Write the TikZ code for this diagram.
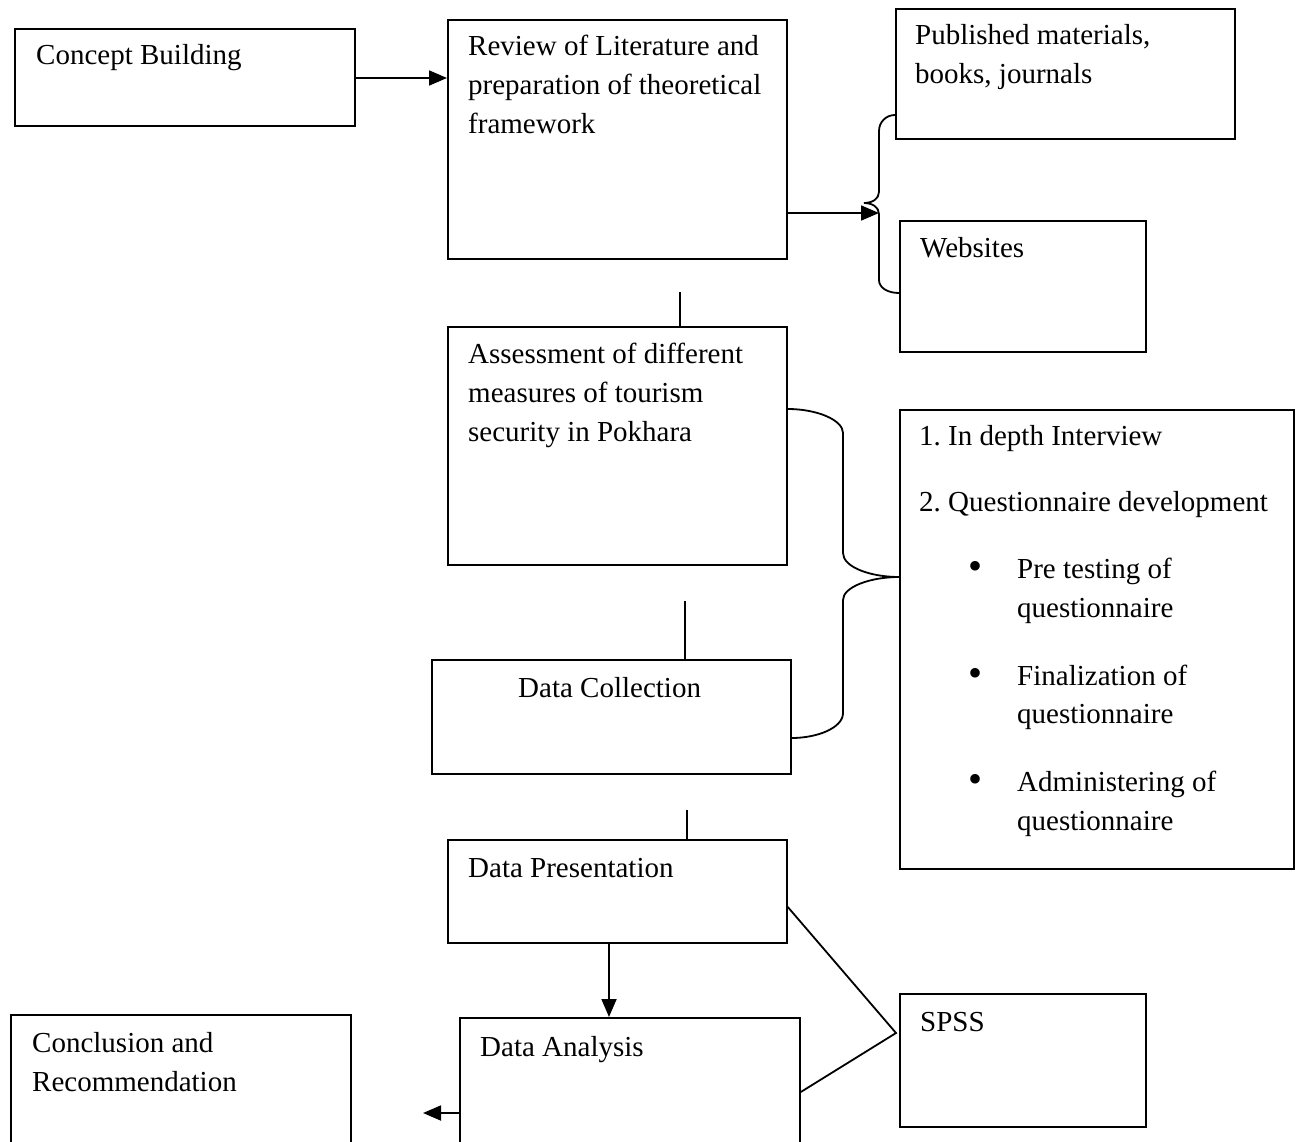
\documentclass[tikz,border=0pt]{standalone}
\usepackage{fontspec}
\setmainfont{Liberation Serif}
\usetikzlibrary{arrows.meta}
\frenchspacing
\begin{document}
\begin{tikzpicture}[x=1pt,y=-1pt,
  box/.style={draw,line width=1.8pt,rectangle,inner sep=0pt,anchor=north west},
  txt/.style={anchor=base west,inner sep=0pt,font=\fontsize{29}{39}\selectfont},
  bul/.style={anchor=base,inner sep=0pt,font=\fontsize{40}{39}\selectfont},
  ln/.style={line width=1.8pt},
  arr/.style={line width=1.8pt,-{Triangle[length=18pt,width=15pt]}}]
\clip (0,0) rectangle (1301,1142);
\fill[white] (0,0) rectangle (1301,1142);
% boxes
\node[box,minimum width=340pt,minimum height=97pt] (concept) at (14,28) {};
\node[box,minimum width=339pt,minimum height=239pt] (review) at (447,19) {};
\node[box,minimum width=339pt,minimum height=130pt] (published) at (895,8) {};
\node[box,minimum width=246pt,minimum height=131pt] (websites) at (899,220) {};
\node[box,minimum width=339pt,minimum height=238pt] (assess) at (447,326) {};
\node[box,minimum width=359pt,minimum height=114pt] (collect) at (431,659) {};
\node[box,minimum width=394pt,minimum height=459pt] (methods) at (899,409) {};
\node[box,minimum width=339pt,minimum height=103pt] (present) at (447,839) {};
\node[box,minimum width=340pt,minimum height=140pt] (analysis) at (459,1017) {};
\node[box,minimum width=246pt,minimum height=133pt] (spss) at (899,993) {};
\node[box,minimum width=340pt,minimum height=140pt] (conclusion) at (10,1014) {};
% texts
\node[txt] (t-concept) at (36,65) {Concept Building};
\node[txt] (t-rev1) at (468,56) {Review of Literature and};
\node[txt] (t-rev2) at (468,95) {preparation of theoretical};
\node[txt] (t-rev3) at (468,134) {framework};
\node[txt] (t-pub1) at (915,45) {Published materials,};
\node[txt] (t-pub2) at (915,84) {books, journals};
\node[txt] (t-web) at (920,258) {Websites};
\node[txt] (t-as1) at (468,363) {Assessment of different};
\node[txt] (t-as2) at (468,402) {measures of tourism};
\node[txt] (t-as3) at (468,441) {security in Pokhara};
\node[txt] (t-col) at (518,697) {Data Collection};
\node[txt] (t-m1) at (919,445) {1. In depth Interview};
\node[txt] (t-m2) at (919,511) {2. Questionnaire development};
\node[bul] (b1) at (975,579) {•};
\node[txt] (t-m3) at (1017,578) {Pre testing of};
\node[txt] (t-m4) at (1017,617) {questionnaire};
\node[bul] (b2) at (975,686) {•};
\node[txt] (t-m5) at (1017,685) {Finalization of};
\node[txt] (t-m6) at (1017,723) {questionnaire};
\node[bul] (b3) at (975,792) {•};
\node[txt] (t-m7) at (1017,791) {Administering of};
\node[txt] (t-m8) at (1017,830) {questionnaire};
\node[txt] (t-pre) at (468,877) {Data Presentation};
\node[txt] (t-ana) at (480,1056) {Data Analysis};
\node[txt] (t-spss) at (920,1031) {SPSS};
\node[txt] (t-con1) at (32,1052) {Conclusion and};
\node[txt] (t-con2) at (32,1091) {Recommendation};
% free-end coordinates
\coordinate (c1) at (680,292);
\coordinate (c2) at (685,601);
\coordinate (c3) at (687,810);
\coordinate (c4) at (423,1113);
\coordinate (btip) at (879,213);
\coordinate (spssv) at (896,1033);
% connectors
\draw[arr] (concept.east |- 0,78) -- (review.west |- 0,78);
\draw[arr] (review.east |- btip) -- (btip);
\draw[ln] (c1) -- (c1 |- assess.north);
\draw[ln] (c2) -- (c2 |- collect.north);
\draw[ln] (c3) -- (c3 |- present.north);
\draw[arr] (present.south -| 609,0) -- (analysis.north -| 609,0);
\draw[arr] (analysis.west |- c4) -- (c4);
\draw[ln] (present.east |- 0,907) -- (spssv) -- (analysis.east |- 0,1092);
% small brace
\draw[ln] (published.west |- 0,115) .. controls (886,115) and (879,122) .. (879,131)
  -- (879,192) .. controls (879,199) and (872,203) .. (864,203)
  .. controls (872,203) and (879,207) .. (879,214)
  -- (879,280) .. controls (879,288) and (888,293) .. (websites.west |- 0,293);
% big brace
\draw[ln] (assess.east |- methods.north) .. controls (817,409) and (843,420) .. (843,433)
  -- (843,553) .. controls (843,567) and (870,577) .. (methods.west |- 0,577)
  .. controls (870,577) and (843,587) .. (843,600)
  -- (843,713) .. controls (843,728) and (817,738) .. (collect.east |- 0,738);
\end{tikzpicture}
\end{document}
